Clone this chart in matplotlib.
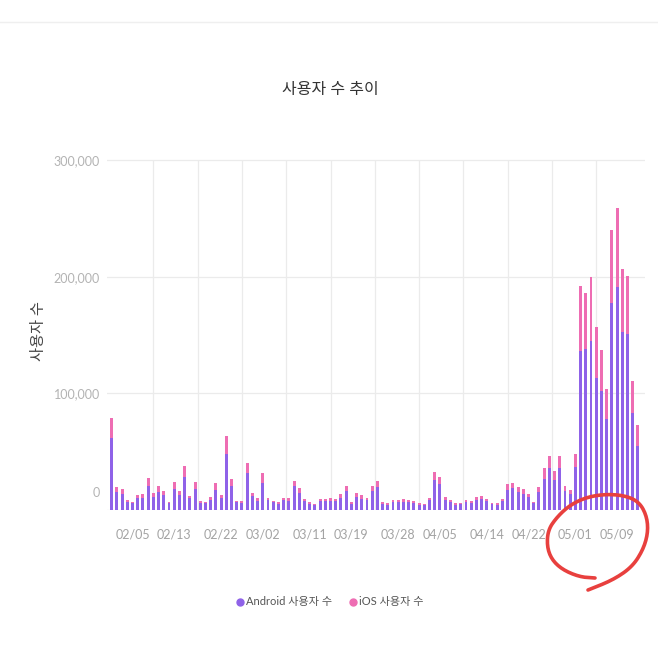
import numpy as np
import pandas as pd
import matplotlib
matplotlib.use("Agg")
import matplotlib.pyplot as plt
from matplotlib.lines import Line2D
from matplotlib.transforms import ScaledTranslation

plt.rcParams['font.family'] = ['Lato', 'Noto Sans CJK KR', 'DejaVu Sans']

# daily users, in thousands, 02/01 .. 05/13
dates = pd.date_range("2021-02-01", periods=102, freq="D")
android_k = [
    62, 15.5, 13.5, 7, 6, 10, 10.5, 21, 11.5, 15.5,
    13, 6, 18, 13, 28.5, 10, 18, 6.2, 5.8, 8.8,
    17.5, 10.3, 48.4, 20.5, 6.5, 6, 31.3, 12, 8, 22.8,
    8.3, 6.5, 5.4, 8.3, 8, 20.5, 14.5, 7.7, 5.5, 4.4,
    7.7, 7.5, 8, 7.7, 10.5, 16, 5.5, 11.5, 9.8, 8.2,
    16.5, 19.5, 5.3, 4.6, 6.8, 6.6, 7.2, 6.8, 6.2, 4.6,
    3.9, 8.3, 25.6, 22, 9, 6.8, 4.6, 5, 6.8, 6.4,
    9, 9.6, 7.5, 5, 4.6, 7.5, 17, 18.5, 15.5, 14,
    10.8, 5.7, 15.5, 26.5, 35.6, 25.6, 36, 16, 13.5, 37,
    136, 138, 145, 113, 102, 78, 177.5, 191, 153, 150.5,
    83, 55,
]
ios_k = [
    17, 4.5, 4.5, 1.5, 1, 2.8, 2.9, 6.6, 3, 5,
    3.5, 1, 5.7, 3.5, 9.1, 2.2, 5.7, 1.5, 1.2, 2,
    5.3, 2.5, 15.1, 6, 1.5, 1.4, 9.2, 3, 2, 8.5,
    2.2, 1.5, 1.2, 2.2, 2, 4.3, 4.5, 2, 1.3, 1,
    2, 1.9, 2, 2, 2.9, 4.5, 1.3, 3.3, 2.7, 2.1,
    4.5, 5.3, 1.3, 1.1, 1.7, 1.7, 1.9, 1.7, 1.5, 1.1,
    0.9, 2.2, 6.6, 6, 2.4, 1.7, 1.1, 1.3, 1.7, 1.6,
    2.4, 2.6, 1.9, 1.3, 1.1, 1.9, 5, 4.9, 4.5, 3.7,
    2.9, 1.4, 4.5, 9.1, 10.8, 7.7, 10.5, 4.8, 3.5, 11,
    55.8, 47.8, 54.5, 43.8, 34.8, 25.5, 62.5, 67.5, 53.6, 49.9,
    28, 18,
]
tick_labels = ["02/05", "02/13", "02/22", "03/02", "03/11", "03/19",
               "03/28", "04/05", "04/14", "04/22", "05/01", "05/09"]
y_ticks = [0, 100000, 200000, 300000]
y_tick_labels = ["0", "100,000", "200,000", "300,000"]
series_names = ["Android 사용자 수", "iOS 사용자 수"]

PURPLE = "#8f62e8"
PINK = "#ee6db3"
W = H = 658

android = np.array(android_k) * 1000
ios = np.array(ios_k) * 1000
x = np.arange(len(dates))
day_labels = list(dates.strftime("%m/%d"))
tick_pos = [day_labels.index(t) for t in tick_labels]

fig = plt.figure(figsize=(W / 100, H / 100), dpi=100)
fig.patch.set_facecolor("white")
ax = fig.add_axes([107 / W, (H - 510) / H, (645 - 107) / W, (510 - 155) / H])

ax.bar(x, android, width=0.56, color=PURPLE, zorder=2)
ax.bar(x, ios, width=0.56, bottom=android, color=PINK, zorder=2)

ax.set_xlim(-0.9, 102.36)
ax.set_ylim(0, 300000 * 355 / 350)

# grid: horizontal at ticks, vertical halfway between date labels
ax.set_yticks(y_ticks, y_tick_labels)
ax.grid(axis="y", color="#ebebeb", lw=0.9, zorder=0)
mids = [(a + b) / 2 for a, b in zip(tick_pos[:-1], tick_pos[1:])]
ax.vlines(mids, 0, 300000, color="#ebebeb", lw=0.9, zorder=0)

ax.set_xticks(tick_pos, tick_labels)
ax.tick_params(axis="x", length=0, pad=13, labelsize=9, labelcolor="#a3a3a3")
ax.tick_params(axis="y", length=0, pad=5, labelsize=9, labelcolor="#b3b3b3")
for s in ax.spines.values():
    s.set_visible(False)

# the "0" label sits a bit above the baseline in the original
zero = ax.get_yticklabels()[0]
zero.set_transform(zero.get_transform() + ScaledTranslation(0, 18 / 100, fig.dpi_scale_trans))

fig.text(0.5015, (H - 90) / H, "사용자 수 추이", ha="center", va="center",
         fontsize=11.5, color="#333333")
fig.text(39 / W, (H - 331) / H, "사용자 수", ha="center", va="center",
         rotation=90, fontsize=11, color="#444444")

handles = [Line2D([], [], ls="", marker="o", markersize=5, color=c) for c in (PURPLE, PINK)]
leg = fig.legend(handles, series_names, loc="center", bbox_to_anchor=(0.500, (H - 602) / H),
                 ncol=2, frameon=False, fontsize=8, handletextpad=0.05,
                 columnspacing=1.3, handlelength=1.0)
for t in leg.get_texts():
    t.set_color("#555555")

# faint page border at the top
fig.add_artist(Line2D([0, 1], [1 - 22 / H] * 2, color="#efefef", lw=1, transform=fig.transFigure))

# hand-drawn red circle around the May spike
pts = np.array([
    (595, 578), (580, 577), (563, 570), (552, 560), (547, 547), (548, 530),
    (557, 517), (570, 505), (587, 497), (607, 494), (627, 496), (640, 503),
    (647, 517), (648, 533), (643, 550), (632, 567), (613, 580), (588, 590),
], dtype=float)
for _ in range(3):
    q = 0.75 * pts[:-1] + 0.25 * pts[1:]
    r = 0.25 * pts[:-1] + 0.75 * pts[1:]
    sm = np.empty((2 * len(q), 2))
    sm[0::2] = q
    sm[1::2] = r
    pts = np.vstack([pts[:1], sm, pts[-1:]])
fig.add_artist(Line2D(pts[:, 0] / W, 1 - pts[:, 1] / H, color="#e8403e", lw=2.6,
                      solid_capstyle="round", transform=fig.transFigure))

fig.savefig("out.png", dpi=100)
